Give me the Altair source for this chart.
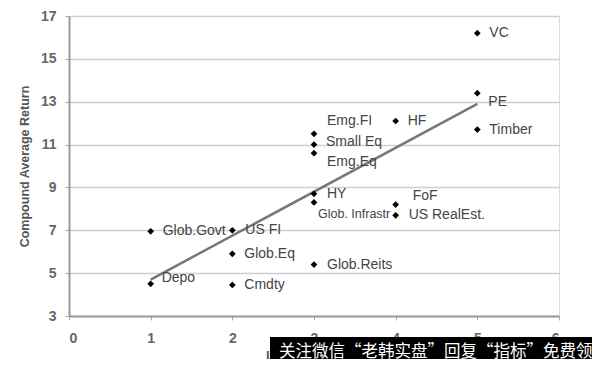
import altair as alt
import pandas as pd

# ---- data ----
names = ["VC", "PE", "Timber", "HF", "Emg.FI", "Small Eq", "Emg.Eq", "HY",
         "Glob. Infrastr", "FoF", "US RealEst.", "Glob.Reits", "Glob.Govt",
         "US FI", "Glob.Eq", "Cmdty", "Depo"]
illiquidity = [5, 5, 5, 4, 3, 3, 3, 3, 3, 4, 4, 3, 1, 2, 2, 2, 1]
returns = [16.2, 13.4, 11.7, 12.1, 11.5, 11.0, 10.6, 8.7, 8.3, 8.2, 7.7, 5.4,
           6.95, 7.0, 5.9, 4.45, 4.5]
trend_x = [1, 5]
trend_y = [4.7, 12.9]
x_ticks = [0, 1, 2, 3, 4, 5, 6]
y_ticks = [3, 5, 7, 9, 11, 13, 15, 17]
banner_text = "关注微信“老韩实盘”回复“指标”免费领"

# ---- layout / style ----
W, H = 490, 300
PX_X = W / 6.0
PX_Y = H / 14.0
# label offsets in pixels (dx right, dy down) relative to each point
label_offsets = {
    "VC": (12, 0), "PE": (11, 9), "Timber": (12, 0), "HF": (12, 0),
    "Emg.FI": (13, -13), "Small Eq": (12, -3), "Emg.Eq": (13, 9),
    "HY": (13, 0), "Glob. Infrastr": (4, 12), "FoF": (17, -9),
    "US RealEst.": (13, 0), "Glob.Reits": (13, 0), "Glob.Govt": (12, 0),
    "US FI": (13, 0), "Glob.Eq": (12, 0), "Cmdty": (12, 0), "Depo": (11, -6),
}

df = pd.DataFrame({"name": names, "x": illiquidity, "y": returns})
df["lx"] = [x + label_offsets[n][0] / PX_X for n, x in zip(df["name"], df["x"])]
df["ly"] = [y - label_offsets[n][1] / PX_Y for n, y in zip(df["name"], df["y"])]
trend = pd.DataFrame({"x": trend_x, "y": trend_y})

FONT = "Liberation Sans"

xscale = alt.Scale(domain=[0, 6], nice=False, zero=False)
yscale = alt.Scale(domain=[3, 17], nice=False, zero=False)

xaxis = alt.Axis(values=x_ticks, format="d", grid=False, title="Illiquidity Score",
                 labelFontSize=14, labelFontWeight="bold", labelColor="#666",
                 labelPadding=11, tickSize=4, tickColor="#aaa",
                 domainColor="#999", domainWidth=2,
                 titleFontSize=13, titleFontWeight="bold", titleColor="#555")
yaxis = alt.Axis(values=y_ticks, format="d", grid=True, gridColor="#cfcfcf",
                 gridWidth=1.5, title="Compound Average Return",
                 labelFontSize=14, labelFontWeight="bold", labelColor="#666",
                 labelPadding=9, tickSize=4, tickColor="#aaa",
                 domainColor="#999", domainWidth=2,
                 titleFontSize=12.5, titleFontWeight="bold", titleColor="#555",
                 titleX=-45, titleY=H / 2, titleAlign="center",
                 titleBaseline="middle")

line = alt.Chart(trend).mark_line(color="#777", strokeWidth=2.5).encode(
    x=alt.X("x:Q", scale=xscale, axis=xaxis),
    y=alt.Y("y:Q", scale=yscale, axis=yaxis),
)

points = alt.Chart(df).mark_point(shape="diamond", filled=True, color="black",
                                  size=45, opacity=1).encode(
    x=alt.X("x:Q", scale=xscale),
    y=alt.Y("y:Q", scale=yscale),
)

labels = alt.Chart(df).transform_filter(
    alt.datum.name != "Glob. Infrastr"
).mark_text(align="left", baseline="middle", font=FONT, fontSize=14,
            color="#444").encode(
    x=alt.X("lx:Q", scale=xscale),
    y=alt.Y("ly:Q", scale=yscale),
    text="name:N",
)

labels_small = alt.Chart(df).transform_filter(
    alt.datum.name == "Glob. Infrastr"
).mark_text(align="left", baseline="middle", font=FONT, fontSize=12.5,
            color="#444").encode(
    x=alt.X("lx:Q", scale=xscale),
    y=alt.Y("ly:Q", scale=yscale),
    text="name:N",
)

bdf = pd.DataFrame({"t": [banner_text]})
banner = alt.Chart(bdf).mark_rect(color="black").encode(
    x=alt.value(201), x2=alt.value(531), y=alt.value(321), y2=alt.value(351)
)
banner_txt = alt.Chart(bdf).mark_text(
    align="left", baseline="middle", font="Noto Sans CJK SC", fontSize=16.5,
    color="white"
).encode(x=alt.value(210), y=alt.value(336), text="t:N")

chart = alt.layer(line, points, labels, labels_small, banner, banner_txt).properties(
    width=W, height=H,
    autosize=alt.AutoSizeParams(type="none"),
    padding={"left": 61, "top": 8, "right": 33, "bottom": 43},
).configure_view(
    stroke="#bbb", strokeWidth=1.5
).configure(font=FONT, background="white")

chart.save("out.html", embed_options={"renderer": "svg", "actions": False})
